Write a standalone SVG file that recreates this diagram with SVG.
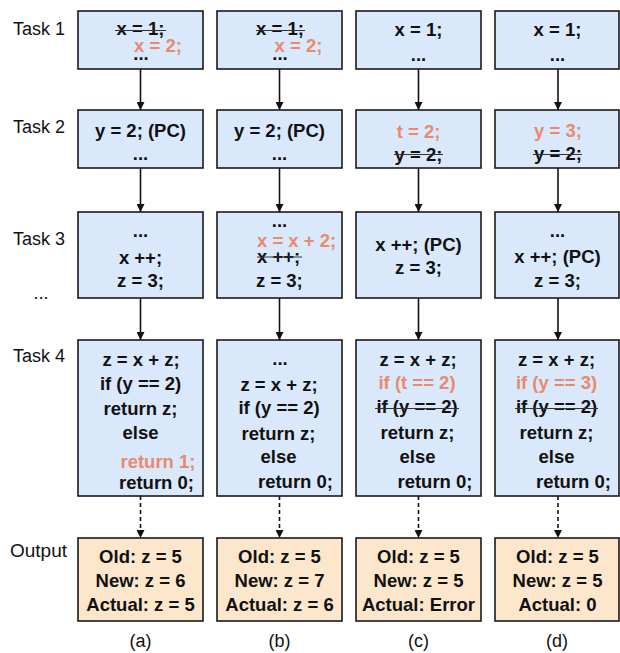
<svg xmlns="http://www.w3.org/2000/svg" width="620" height="653" viewBox="0 0 620 653">
<style>
  .box{fill:#dae8fc;stroke:#1a1a1a;stroke-width:1.6}
  .out{fill:#fce6cc;stroke:#1a1a1a;stroke-width:1.6}
  text{font-family:"Liberation Sans",Arial,Helvetica,sans-serif;font-size:18px;fill:#111}
  .c{font-weight:bold;text-anchor:middle;font-size:18.5px}
  .s{font-weight:bold;text-anchor:start;font-size:18.5px}
  .o{fill:#e98a6a}
  .lbl{font-size:18px}
  .strike{stroke:#333;stroke-width:1.1}
  .arr{stroke:#111;stroke-width:1.6;fill:none;marker-end:url(#ah)}
  .dash{stroke-dasharray:4 3}
</style>
<defs>
  <marker id="ah" viewBox="0 0 10 10" refX="10" refY="5" markerWidth="8" markerHeight="8" markerUnits="userSpaceOnUse" orient="auto">
    <path d="M0,0 L10,5 L0,10 z" fill="#111"/>
  </marker>
</defs>

<g id="labels">
  <text class="lbl" x="13" y="35">Task 1</text>
  <text class="lbl" x="13" y="133">Task 2</text>
  <text class="lbl" x="13" y="245">Task 3</text>
  <text class="lbl" x="41" y="299" text-anchor="middle">...</text>
  <text class="lbl" x="13" y="362">Task 4</text>
  <text class="lbl" x="10" y="557" style="font-size:19px">Output</text>
  <text class="lbl" x="140.5" y="647" text-anchor="middle">(a)</text>
  <text class="lbl" x="279.5" y="647" text-anchor="middle">(b)</text>
  <text class="lbl" x="418.5" y="647" text-anchor="middle">(c)</text>
  <text class="lbl" x="557" y="647" text-anchor="middle">(d)</text>
</g>

<g id="connectors">
  <line class="arr" x1="140.5" y1="69" x2="140.5" y2="110"/>
  <line class="arr" x1="140.5" y1="168" x2="140.5" y2="212"/>
  <line class="arr" x1="140.5" y1="298" x2="140.5" y2="340"/>
  <line class="arr dash" x1="140.5" y1="496" x2="140.5" y2="538"/>
  <line class="arr" x1="279.5" y1="69" x2="279.5" y2="110"/>
  <line class="arr" x1="279.5" y1="168" x2="279.5" y2="212"/>
  <line class="arr" x1="279.5" y1="298" x2="279.5" y2="340"/>
  <line class="arr dash" x1="279.5" y1="496" x2="279.5" y2="538"/>
  <line class="arr" x1="418.5" y1="69" x2="418.5" y2="110"/>
  <line class="arr" x1="418.5" y1="168" x2="418.5" y2="212"/>
  <line class="arr" x1="418.5" y1="298" x2="418.5" y2="340"/>
  <line class="arr dash" x1="418.5" y1="496" x2="418.5" y2="538"/>
  <line class="arr" x1="558" y1="69" x2="558" y2="110"/>
  <line class="arr" x1="558" y1="168" x2="558" y2="212"/>
  <line class="arr" x1="558" y1="298" x2="558" y2="340"/>
  <line class="arr dash" x1="558" y1="496" x2="558" y2="538"/>
</g>

<!-- Column a -->
<g id="a-task1">
  <rect class="box" x="78" y="11" width="125" height="58"/>
  <text class="c" x="140.5" y="35">x = 1;</text>
  <line class="strike" x1="115" y1="30.5" x2="166" y2="30.5"/>
  <text class="c o" x="158" y="52">x = 2;</text>
  <text class="c" x="141" y="60">...</text>
</g>
<g id="a-task2">
  <rect class="box" x="78" y="110" width="125" height="58"/>
  <text class="c" x="140.5" y="137">y = 2; (PC)</text>
  <text class="c" x="140.5" y="160">...</text>
</g>
<g id="a-task3">
  <rect class="box" x="78" y="212" width="125" height="86"/>
  <text class="c" x="140.5" y="237">...</text>
  <text class="c" x="140.5" y="264">x ++;</text>
  <text class="c" x="140.5" y="287">z = 3;</text>
</g>
<g id="a-task4">
  <rect class="box" x="78" y="340" width="125" height="156"/>
  <text class="c" x="141" y="366">z = x + z;</text>
  <text class="c" x="140.5" y="390">if (y == 2)</text>
  <text class="c" x="140.5" y="415">return z;</text>
  <text class="c" x="140.5" y="439">else</text>
  <text class="c o" x="158" y="468">return 1;</text>
  <text class="c" x="156.5" y="489">return 0;</text>
</g>
<g id="a-output">
  <rect class="out" x="78" y="538" width="125" height="83"/>
  <text class="c" x="140.5" y="563">Old: z = 5</text>
  <text class="c" x="140.5" y="587">New: z = 6</text>
  <text class="c" x="140.5" y="611">Actual: z = 5</text>
</g>

<!-- Column b -->
<g id="b-task1">
  <rect class="box" x="217" y="11" width="125" height="58"/>
  <text class="c" x="280" y="35">x = 1;</text>
  <line class="strike" x1="256" y1="30.5" x2="305" y2="30.5"/>
  <text class="c o" x="298.5" y="52">x = 2;</text>
  <text class="c" x="280" y="60">...</text>
</g>
<g id="b-task2">
  <rect class="box" x="217" y="110" width="125" height="58"/>
  <text class="c" x="279.5" y="137">y = 2; (PC)</text>
  <text class="c" x="279.5" y="160">...</text>
</g>
<g id="b-task3">
  <rect class="box" x="217" y="212" width="125" height="86"/>
  <text class="c" x="279.5" y="227">...</text>
  <text class="s o" x="257" y="247">x = x + 2;</text>
  <text class="s" x="257" y="263">x ++;</text>
  <line class="strike" x1="257" y1="257" x2="302" y2="257"/>
  <text class="s" x="256" y="287">z = 3;</text>
</g>
<g id="b-task4">
  <rect class="box" x="217" y="340" width="125" height="156"/>
  <text class="c" x="280" y="365">...</text>
  <text class="c" x="279" y="391">z = x + z;</text>
  <text class="c" x="279" y="414">if (y == 2)</text>
  <text class="c" x="278.5" y="440">return z;</text>
  <text class="c" x="278.5" y="463">else</text>
  <text class="c" x="295.5" y="488">return 0;</text>
</g>
<g id="b-output">
  <rect class="out" x="217" y="538" width="125" height="83"/>
  <text class="c" x="279.5" y="563">Old: z = 5</text>
  <text class="c" x="279.5" y="587">New: z = 7</text>
  <text class="c" x="279.5" y="611">Actual: z = 6</text>
</g>

<!-- Column c -->
<g id="c-task1">
  <rect class="box" x="356" y="11" width="125" height="58"/>
  <text class="c" x="418.5" y="36">x = 1;</text>
  <text class="c" x="418.5" y="61">...</text>
</g>
<g id="c-task2">
  <rect class="box" x="356" y="110" width="125" height="58"/>
  <text class="c o" x="418.5" y="138">t = 2;</text>
  <text class="c" x="418.5" y="161">y = 2;</text>
  <line class="strike" x1="394" y1="154.5" x2="443" y2="154.5"/>
</g>
<g id="c-task3">
  <rect class="box" x="356" y="212" width="125" height="86"/>
  <text class="c" x="418.5" y="251">x ++; (PC)</text>
  <text class="c" x="418.5" y="274">z = 3;</text>
</g>
<g id="c-task4">
  <rect class="box" x="356" y="340" width="125" height="156"/>
  <text class="c" x="418" y="366">z = x + z;</text>
  <text class="c o" x="417" y="389">if (t == 2)</text>
  <text class="c" x="417" y="413">if (y == 2)</text>
  <line class="strike" x1="375" y1="408.5" x2="459" y2="408.5"/>
  <text class="c" x="417.5" y="439">return z;</text>
  <text class="c" x="417.5" y="463">else</text>
  <text class="c" x="435" y="488">return 0;</text>
</g>
<g id="c-output">
  <rect class="out" x="356" y="538" width="125" height="83"/>
  <text class="c" x="418.5" y="563">Old: z = 5</text>
  <text class="c" x="418.5" y="587">New: z = 5</text>
  <text class="c" x="418.5" y="611">Actual: Error</text>
</g>

<!-- Column d -->
<g id="d-task1">
  <rect class="box" x="495" y="11" width="124" height="58"/>
  <text class="c" x="557.5" y="36">x = 1;</text>
  <text class="c" x="557.5" y="61">...</text>
</g>
<g id="d-task2">
  <rect class="box" x="495" y="110" width="124" height="58"/>
  <text class="c o" x="558" y="137">y = 3;</text>
  <text class="c" x="558" y="160">y = 2;</text>
  <line class="strike" x1="533" y1="154.5" x2="582" y2="154.5"/>
</g>
<g id="d-task3">
  <rect class="box" x="495" y="212" width="124" height="86"/>
  <text class="c" x="557.5" y="237">...</text>
  <text class="c" x="557.5" y="263">x ++; (PC)</text>
  <text class="c" x="557.5" y="287">z = 3;</text>
</g>
<g id="d-task4">
  <rect class="box" x="495" y="340" width="124" height="156"/>
  <text class="c" x="556.5" y="366">z = x + z;</text>
  <text class="c o" x="556.5" y="389">if (y == 3)</text>
  <text class="c" x="556.5" y="413">if (y == 2)</text>
  <line class="strike" x1="515" y1="408.5" x2="598" y2="408.5"/>
  <text class="c" x="556.5" y="439">return z;</text>
  <text class="c" x="556.5" y="463">else</text>
  <text class="c" x="573.5" y="488">return 0;</text>
</g>
<g id="d-output">
  <rect class="out" x="495" y="538" width="124" height="83"/>
  <text class="c" x="557.5" y="563">Old: z = 5</text>
  <text class="c" x="557.5" y="587">New: z = 5</text>
  <text class="c" x="557.5" y="611">Actual: 0</text>
</g>
</svg>
